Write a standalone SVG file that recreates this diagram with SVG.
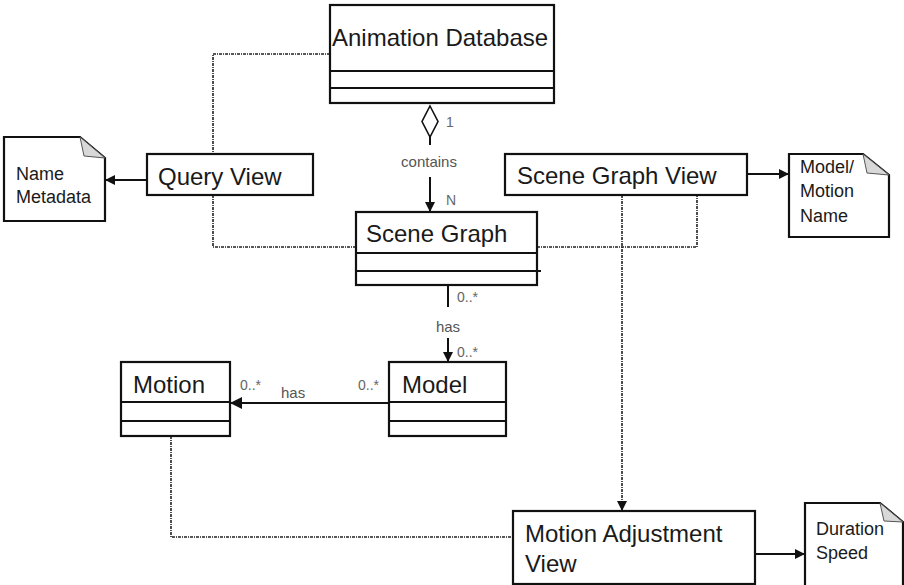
<svg xmlns="http://www.w3.org/2000/svg" width="904" height="585" viewBox="0 0 904 585">
<defs>
<marker id="arr" viewBox="0 0 10 10" refX="10" refY="5" markerWidth="10" markerHeight="10" markerUnits="userSpaceOnUse" orient="auto">
<path d="M0,0 L10,5 L0,10 Z" fill="#111"/>
</marker>
<marker id="arr2" viewBox="0 0 10 10" refX="10" refY="5" markerWidth="12" markerHeight="12" markerUnits="userSpaceOnUse" orient="auto">
<path d="M0,0 L10,5 L0,10 Z" fill="#111"/>
</marker>
</defs>
<style>
.box{fill:#fff;stroke:#111;stroke-width:2.2}
.div{stroke:#111;stroke-width:1.8}
.t{font-family:"Liberation Sans",Arial,sans-serif;font-size:24px;fill:#1a1a1a}
.n{font-family:"Liberation Sans",Arial,sans-serif;font-size:18px;fill:#1a1a1a}
.s{font-family:"Liberation Sans",Arial,sans-serif;font-size:15px;fill:#555}
.m{font-family:"Liberation Sans",Arial,sans-serif;font-size:14px;fill:#666}
.sol{fill:none;stroke:#111;stroke-width:2}
.dot{fill:none;stroke:#222;stroke-width:1.6;stroke-dasharray:3 1 1 1}
.fold{fill:#d8d8d8;stroke:#555;stroke-width:1}
</style>
<rect width="904" height="585" fill="#fff"/>

<g id="connectors">
<polyline class="dot" points="330,54 213,54 213,154"/>
<polyline class="dot" points="213,195 213,247 356,247"/>
<polyline class="dot" points="537,247 697,247 697,195"/>
<line class="dot" x1="622" y1="195" x2="622" y2="511" marker-end="url(#arr)"/>
<polyline class="dot" points="171,436 171,537 513,537"/>
<path d="M430,106 L438,121.5 L430,137 L422,121.5 Z" fill="#fff" stroke="#111" stroke-width="1.6"/>
<line class="sol" x1="430" y1="137" x2="430" y2="145"/>
<line class="sol" x1="430" y1="177" x2="430" y2="212" marker-end="url(#arr)"/>
<text class="s" x="429" y="167" text-anchor="middle">contains</text>
<text class="m" x="446" y="127" font-size="15">1</text>
<text class="m" x="446" y="205" font-size="15">N</text>
<line class="sol" x1="448" y1="286" x2="448" y2="307"/>
<line class="sol" x1="448" y1="338" x2="448" y2="362" marker-end="url(#arr)"/>
<text class="s" x="448" y="332" text-anchor="middle">has</text>
<text class="m" x="457" y="302">0..*</text>
<text class="m" x="457" y="357">0..*</text>
<line class="sol" x1="389" y1="403" x2="230" y2="403" stroke-width="1.6" marker-end="url(#arr2)"/>
<text class="m" x="240" y="390">0..*</text>
<text class="s" x="281" y="398">has</text>
<text class="m" x="358" y="390">0..*</text>
<line class="sol" x1="147" y1="180" x2="105" y2="180" marker-end="url(#arr)"/>
<line class="sol" x1="747" y1="174" x2="789" y2="174" marker-end="url(#arr)"/>
<line class="sol" x1="755" y1="554" x2="805" y2="554" marker-end="url(#arr)"/>
</g>

<g id="animation-database">
<rect class="box" x="330" y="5" width="224" height="98"/>
<line class="div" x1="330" y1="71" x2="554" y2="71" stroke-width="3"/>
<line class="div" x1="330" y1="88" x2="554" y2="88"/>
<text class="t" x="332" y="46">Animation Database</text>
</g>

<g id="query-view">
<rect class="box" x="147" y="154" width="166" height="41"/>
<text class="t" x="158" y="185">Query View</text>
</g>

<g id="name-metadata-note">
<path class="box" d="M4,137 L80,137 L105,158 L105,221 L4,221 Z"/>
<path class="fold" d="M80,137 L84,156 L105,158 Z"/>
<text class="n" x="16" y="180">Name</text>
<text class="n" x="16" y="203">Metadata</text>
</g>

<g id="scene-graph-view">
<rect class="box" x="505" y="154" width="242" height="41"/>
<text class="t" x="517" y="184">Scene Graph View</text>
</g>

<g id="model-motion-note">
<path class="box" d="M789,154 L863,154 L889,175 L889,237 L789,237 Z"/>
<path class="fold" d="M863,154 L867,173 L889,175 Z"/>
<text class="n" x="800" y="173">Model/</text>
<text class="n" x="800" y="197">Motion</text>
<text class="n" x="800" y="222">Name</text>
</g>

<g id="scene-graph">
<rect class="box" x="356" y="212" width="181" height="73"/>
<line class="div" x1="356" y1="253" x2="537" y2="253"/>
<line class="div" x1="356" y1="271" x2="541" y2="271"/>
<text class="t" x="366" y="242">Scene Graph</text>
</g>

<g id="motion">
<rect class="box" x="121" y="362" width="109" height="74"/>
<line class="div" x1="121" y1="402" x2="230" y2="402"/>
<line class="div" x1="121" y1="421" x2="230" y2="421"/>
<text class="t" x="133" y="393">Motion</text>
</g>

<g id="model">
<rect class="box" x="389" y="362" width="117" height="74"/>
<line class="div" x1="389" y1="402" x2="506" y2="402"/>
<line class="div" x1="389" y1="421" x2="506" y2="421"/>
<text class="t" x="402" y="393">Model</text>
</g>

<g id="motion-adjustment-view">
<rect class="box" x="513" y="511" width="242" height="73"/>
<text class="t" x="525" y="542">Motion Adjustment</text>
<text class="t" x="525" y="572">View</text>
</g>

<g id="duration-speed-note">
<path class="box" d="M805,503 L880,503 L903,522 L903,590 L805,590 Z"/>
<path class="fold" d="M880,503 L884,521 L903,522 Z"/>
<text class="n" x="816" y="535">Duration</text>
<text class="n" x="816" y="559">Speed</text>
</g>
</svg>
